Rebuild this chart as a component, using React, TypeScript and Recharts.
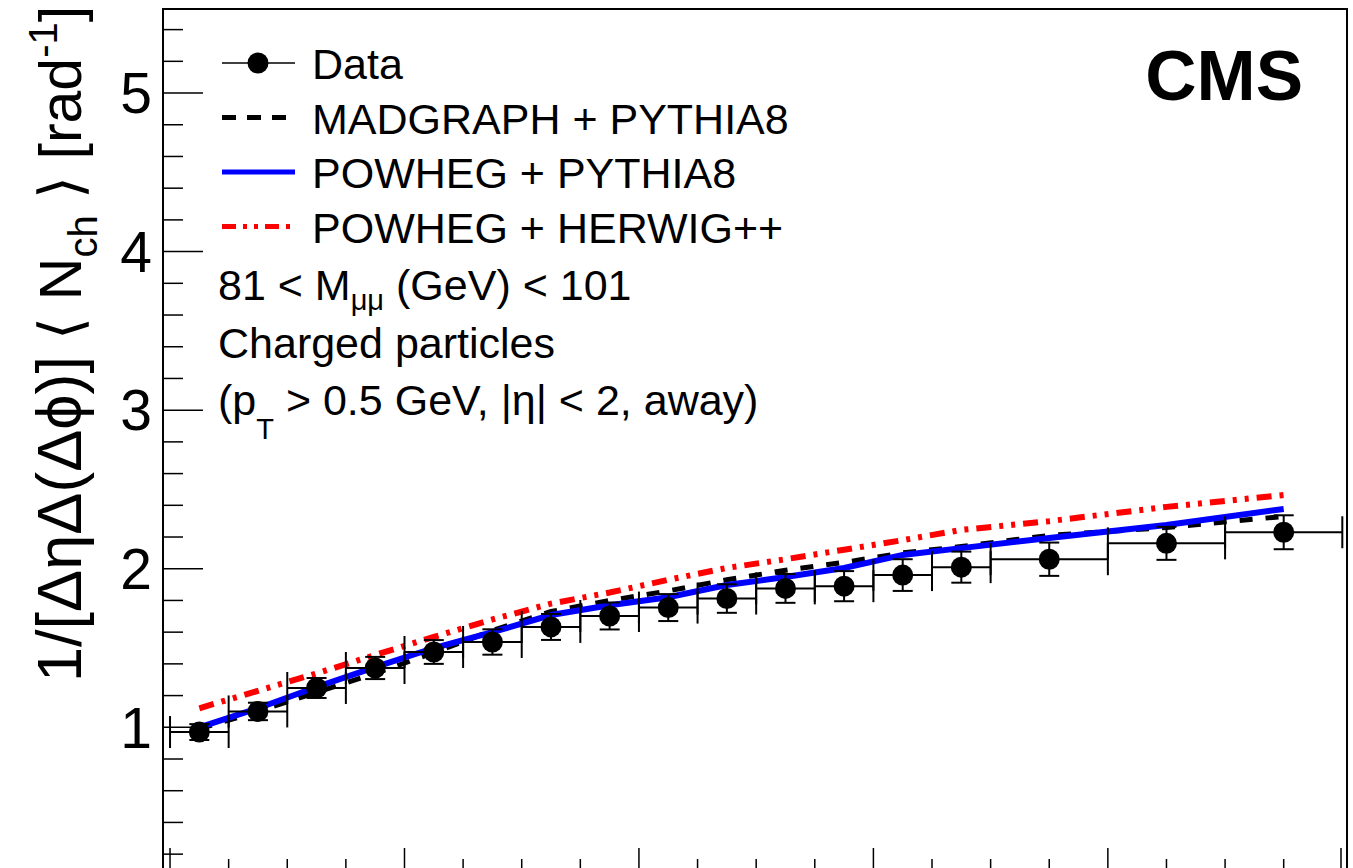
import React from "react";
import {
  ComposedChart,
  Line,
  Scatter,
  ErrorBar,
  XAxis,
  YAxis,
  ReferenceArea,
} from "recharts";

// bin centres and half widths (x), data points with stat errors, and three MC curves
const xCenters = [2.5, 7.5, 12.5, 17.5, 22.5, 27.5, 32.5, 37.5, 42.5, 47.5, 52.5, 57.5, 62.5, 67.5, 75, 85, 95];
const xHalfWidths = [2.5, 2.5, 2.5, 2.5, 2.5, 2.5, 2.5, 2.5, 2.5, 2.5, 2.5, 2.5, 2.5, 2.5, 5, 5, 5];
const dataValues = [0.97, 1.1, 1.248, 1.374, 1.475, 1.538, 1.633, 1.702, 1.755, 1.812, 1.876, 1.89, 1.96, 2.01, 2.06, 2.16, 2.23];
const dataErrors = [0.05, 0.055, 0.063, 0.07, 0.075, 0.08, 0.082, 0.085, 0.085, 0.09, 0.091, 0.095, 0.1, 0.098, 0.105, 0.104, 0.107];
const madgraphPythia8 = [0.99, 1.1, 1.22, 1.34, 1.47, 1.61, 1.73, 1.8, 1.86, 1.93, 1.99, 2.04, 2.1, 2.14, 2.21, 2.26, 2.33];
const powhegPythia8 = [1.0, 1.12, 1.254, 1.38, 1.5, 1.6, 1.708, 1.77, 1.82, 1.897, 1.948, 2.005, 2.087, 2.13, 2.194, 2.276, 2.377];
const powhegHerwig = [1.12, 1.23, 1.34, 1.456, 1.57, 1.68, 1.78, 1.85, 1.93, 2.005, 2.06, 2.12, 2.18, 2.245, 2.3, 2.39, 2.465];

const xLabelTicks = [0, 20, 40, 60, 80, 100];
const xAllTicks = [0, 5, 10, 15, 20, 25, 30, 35, 40, 45, 50, 55, 60, 65, 70, 75, 80, 85, 90, 95, 100];
const yLabelTicks = [1, 2, 3, 4, 5];
const yAllTicks = [0.2, 0.4, 0.6, 0.8, 1, 1.2, 1.4, 1.6, 1.8, 2, 2.2, 2.4, 2.6, 2.8, 3, 3.2, 3.4, 3.6, 3.8, 4, 4.2, 4.4, 4.6, 4.8, 5, 5.2, 5.4];

const X_DOMAIN: [number, number] = [-0.6, 100.4];
const Y_DOMAIN: [number, number] = [0.1, 5.53];

const FONT = "'Liberation Sans', Arial, Helvetica, sans-serif";

const rows = xCenters.map((x, i) => ({
  x,
  xerr: xHalfWidths[i],
  data: dataValues[i],
  yerr: dataErrors[i],
  madgraph: madgraphPythia8[i],
  powPy: powhegPythia8[i],
  powHw: powhegHerwig[i],
}));

const legendItems = [
  { label: "Data", kind: "data" },
  { label: "MADGRAPH + PYTHIA8", kind: "dash" },
  { label: "POWHEG + PYTHIA8", kind: "blue" },
  { label: "POWHEG + HERWIG++", kind: "red" },
];

const Dot = (props: any) => {
  const { cx, cy } = props;
  if (cx == null || cy == null) return null;
  return <circle cx={cx} cy={cy} r={10.5} fill="#000" />;
};

// inward ROOT-style ticks: mirror axis, tickMargin 0 -> label point is at the tick's far end
const Y_MAJ = 40;
const X_MAJ = 22;
const YTick = (p: any) => {
  const v = p.payload.value;
  const len = yLabelTicks.includes(v) ? Y_MAJ : Y_MAJ / 2;
  const axisX = p.x - Y_MAJ;
  return <line x1={axisX} x2={axisX + len} y1={p.y} y2={p.y} stroke="#000" strokeWidth={1.5} />;
};
const XTick = (p: any) => {
  const v = p.payload.value;
  const len = xLabelTicks.includes(v) ? X_MAJ : X_MAJ / 2;
  const axisY = p.y + X_MAJ;
  return <line x1={p.x} x2={p.x} y1={axisY} y2={axisY - len} stroke="#000" strokeWidth={1.5} />;
};

const Overlay = () => (
  <svg
    width={1353}
    height={868}
    style={{ position: "absolute", left: 0, top: 0, pointerEvents: "none" }}
    fontFamily={FONT}
  >
    {/* y title */}
    <text transform="translate(81, 682) rotate(-90)" fontSize={59} fill="#000">
      <tspan fontSize={63}>1/[ΔηΔ(Δϕ)]</tspan> ⟨ N
      <tspan dy={16} fontSize={40}>ch</tspan>
      <tspan dy={-16}> ⟩ [rad</tspan>
      <tspan dy={-24} fontSize={40}>-1</tspan>
      <tspan dy={24}>]</tspan>
    </text>

    {legendItems.map((it, i) => {
      const y = 63 + i * 54.5;
      let sym = null;
      if (it.kind === "data")
        sym = (
          <g>
            <line x1={222} x2={295} y1={y} y2={y} stroke="#000" strokeWidth={1.5} />
            <circle cx={258} cy={y} r={10.5} fill="#000" />
          </g>
        );
      if (it.kind === "dash")
        sym = <line x1={222} x2={290} y1={y} y2={y} stroke="#000" strokeWidth={5} strokeDasharray="14 11" />;
      if (it.kind === "blue")
        sym = <line x1={222} x2={295} y1={y} y2={y} stroke="#0000ff" strokeWidth={5} />;
      if (it.kind === "red")
        sym = <line x1={222} x2={290} y1={y} y2={y} stroke="#ff0000" strokeWidth={5} strokeDasharray="14 7 4 7 4 7" />;
      return (
        <g key={it.label}>
          {sym}
          <text x={312} y={y + 16} fontSize={43} fill="#000">
            {it.label}
          </text>
        </g>
      );
    })}

    <text x={218} y={300} fontSize={43} fill="#000">
      81 &lt; M
      <tspan dy={10} fontSize={29}>μμ</tspan>
      <tspan dy={-10}> (GeV) &lt; 101</tspan>
    </text>
    <text x={218} y={358} fontSize={43} fill="#000">
      Charged particles
    </text>
    <text x={218} y={415} fontSize={43} fill="#000">
      (p
      <tspan dy={24} fontSize={29}>T</tspan>
      <tspan dy={-24}> &gt; 0.5 GeV, |η| &lt; 2, away)</tspan>
    </text>

    <text x={1303} y={100} fontSize={71} fontWeight="bold" textAnchor="end" fill="#000">
      CMS
    </text>
  </svg>
);

export default function App() {
  return (
    <div
      style={{
        position: "absolute",
        left: 0,
        top: 0,
        width: 1353,
        height: 868,
        overflow: "hidden",
        background: "#fff",
      }}
    >
      <ComposedChart
        width={1353}
        height={870}
        data={rows}
        margin={{ top: 9, right: 6, bottom: 0, left: 0 }}
      >
        <XAxis
          dataKey="x"
          type="number"
          domain={X_DOMAIN}
          allowDataOverflow
          ticks={xAllTicks}
          orientation="bottom"
          mirror
          tickSize={X_MAJ}
          tickMargin={0}
          tick={<XTick />}
          axisLine={{ stroke: "#000", strokeWidth: 2 }}
          tickLine={false}
        />
        <YAxis
          type="number"
          domain={Y_DOMAIN}
          allowDataOverflow
          ticks={yLabelTicks}
          width={163}
          tickSize={0}
          tickMargin={11}
          tickLine={false}
          axisLine={{ stroke: "#000", strokeWidth: 2 }}
          tick={{ fontSize: 57, fill: "#000", fontFamily: FONT }}
        />
        <YAxis
          yAxisId="yticks"
          type="number"
          domain={Y_DOMAIN}
          allowDataOverflow
          ticks={yAllTicks}
          mirror
          tickSize={Y_MAJ}
          tickMargin={0}
          tick={<YTick />}
          axisLine={false}
          tickLine={false}
        />
        <ReferenceArea
          x1={X_DOMAIN[0]}
          x2={X_DOMAIN[1]}
          y1={Y_DOMAIN[0]}
          y2={Y_DOMAIN[1]}
          fill="none"
          stroke="#000"
          strokeWidth={2}
          ifOverflow="visible"
        />
        <Line
          dataKey="madgraph"
          type="linear"
          stroke="#000"
          strokeWidth={5}
          strokeDasharray="13 13"
          dot={false}
          isAnimationActive={false}
        />
        <Line
          dataKey="powPy"
          type="linear"
          stroke="#0000ff"
          strokeWidth={6}
          dot={false}
          isAnimationActive={false}
        />
        <Line
          dataKey="powHw"
          type="linear"
          stroke="#ff0000"
          strokeWidth={6}
          strokeDasharray="15 8 4 8 4 8"
          dot={false}
          isAnimationActive={false}
        />
        <Scatter dataKey="data" fill="#000" shape={<Dot />} isAnimationActive={false}>
          <ErrorBar dataKey="xerr" direction="x" width={16} stroke="#000" strokeWidth={2} />
          <ErrorBar dataKey="yerr" direction="y" width={10} stroke="#000" strokeWidth={2} />
        </Scatter>
      </ComposedChart>
      <Overlay />
    </div>
  );
}
